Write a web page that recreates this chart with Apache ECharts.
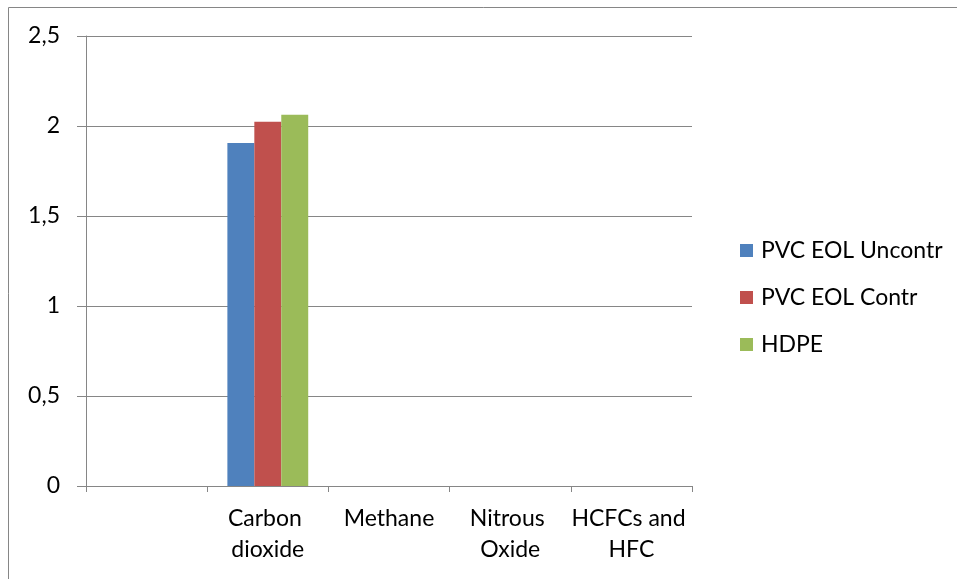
<!DOCTYPE html>
<html>
<head>
<meta charset="utf-8">
<script src="https://cdn.jsdelivr.net/npm/echarts@6/dist/echarts.min.js"></script>
<style>
  html, body { margin: 0; padding: 0; background: #fff; }
  #chart { width: 957px; height: 579px; }
</style>
</head>
<body>
<div id="chart"></div>
<script>
// Gas categories (the first slot is left blank)
const categories = ['', 'Carbon dioxide', 'Methane', 'Nitrous Oxide', 'HCFCs and HFC'];

// Emissions per scenario
const pvcUncontr = [0, 1.906, 0, 0, 0];
const pvcContr   = [0, 2.024, 0, 0, 0];
const hdpe       = [0, 2.063, 0, 0, 0];

// Value axis ticks
const yTicks = [0, 0.5, 1, 1.5, 2, 2.5];

const seriesNames = ['PVC EOL Uncontr', 'PVC EOL Contr', 'HDPE'];
const seriesColors = ['#4F81BD', '#C0504D', '#9BBB59'];
const seriesData = [pvcUncontr, pvcContr, hdpe];

const axisGray = '#868686';
const fontFamily = 'Lato, "Open Sans", sans-serif';
const fontSize = 23;

const chart = echarts.init(document.getElementById('chart'));

chart.setOption({
  animation: false,
  textStyle: { fontFamily: fontFamily },
  graphic: [{
    type: 'rect',
    shape: { x: 8.5, y: 7.5, width: 1200, height: 1200 },
    style: { fill: 'none', stroke: axisGray, lineWidth: 1 },
    silent: true
  }],
  grid: { left: 86, right: 265, top: 36, bottom: 93 },
  legend: {
    orient: 'vertical',
    left: 735,
    top: 234,
    itemWidth: 13,
    itemHeight: 13,
    itemGap: 24,
    icon: 'rect',
    textStyle: { fontSize: fontSize, color: '#000', fontFamily: fontFamily, padding: [0, 0, 0, 3] },
    data: seriesNames
  },
  xAxis: {
    type: 'category',
    data: categories,
    axisLine: { lineStyle: { color: axisGray, width: 1 } },
    axisTick: { show: true, length: 6, lineStyle: { color: axisGray } },
    axisLabel: {
      interval: 0,
      color: '#000',
      fontSize: fontSize,
      margin: 17,
      lineHeight: 31,
      width: 121,
      overflow: 'break',
      fontFamily: fontFamily
    }
  },
  yAxis: {
    type: 'value',
    min: yTicks[0],
    max: yTicks[yTicks.length - 1],
    interval: 0.5,
    axisLine: { show: true, lineStyle: { color: axisGray, width: 1 } },
    axisTick: { show: true, length: 9, lineStyle: { color: axisGray } },
    splitLine: { lineStyle: { color: axisGray, width: 1 } },
    axisLabel: {
      color: '#000',
      fontSize: fontSize,
      margin: 26,
      fontFamily: fontFamily,
      formatter: v => String(v).replace('.', ',')
    }
  },
  series: seriesData.map((d, i) => ({
    name: seriesNames[i],
    type: 'bar',
    data: d,
    barGap: '0%',
    barCategoryGap: '33.3%',
    itemStyle: { color: seriesColors[i] }
  }))
});
</script>
</body>
</html>
